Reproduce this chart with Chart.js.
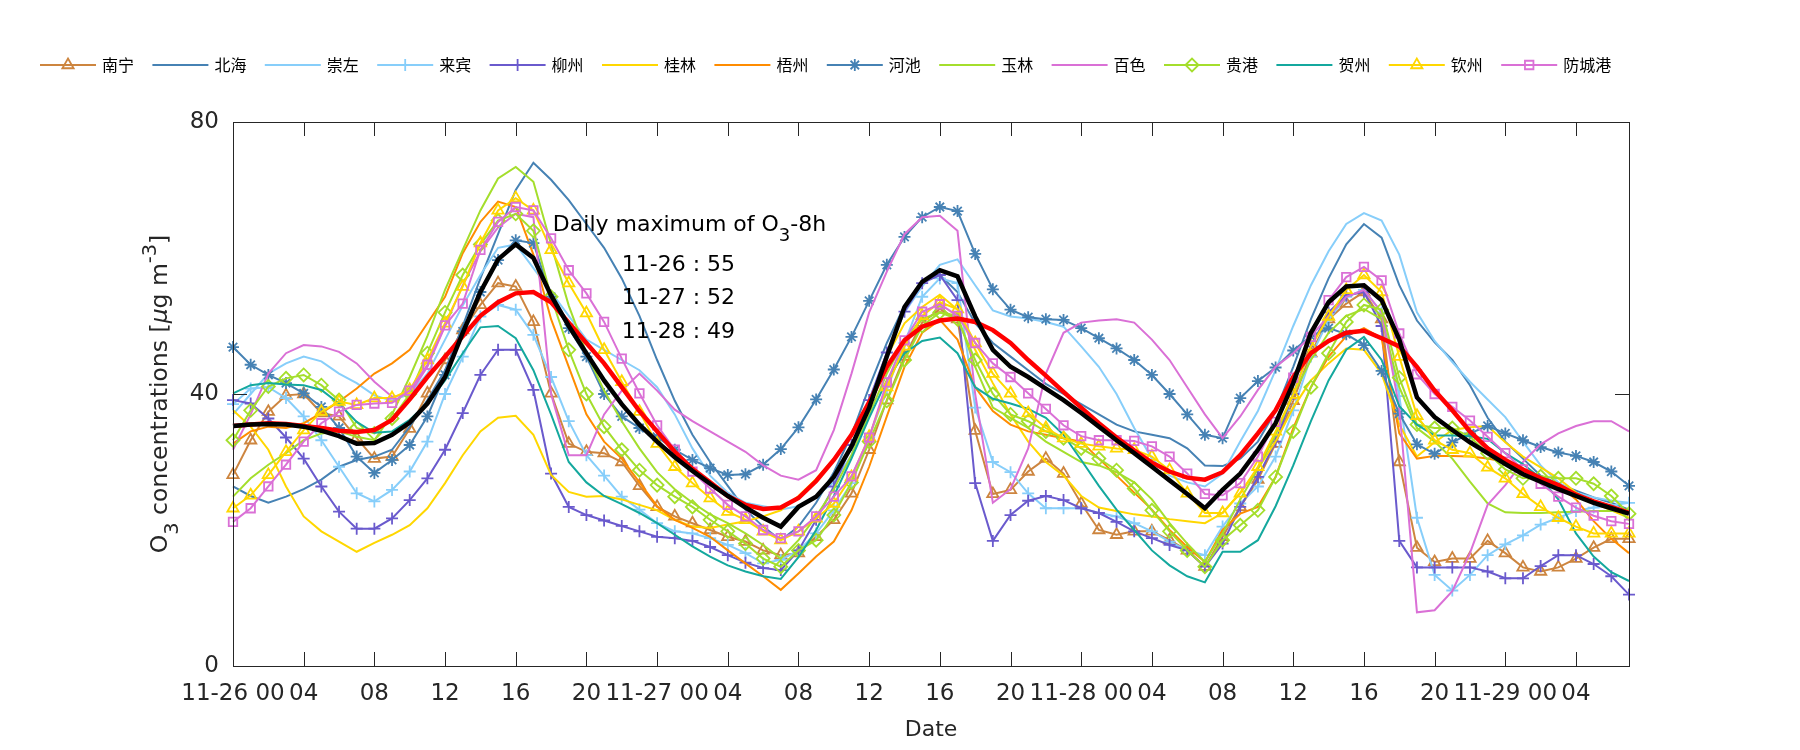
<!DOCTYPE html>
<html lang="zh">
<head>
<meta charset="utf-8" />
<title>O3 concentrations</title>
<script src="https://cdn.jsdelivr.net/npm/chart.js"></script>
<style>
  html, body { margin: 0; padding: 0; background: #fff; }
  #wrap { width: 1800px; height: 750px; }
</style>
</head>
<body>
<div id="wrap"><canvas id="o3Chart" width="1800" height="750"></canvas></div>
<script>
// hourly O3, 11-26 00 .. 11-29 07
const cities = ['南宁', '北海', '崇左', '来宾', '柳州', '桂林', '梧州', '河池', '玉林', '百色', '贵港', '贺州', '钦州', '防城港'];

const tickLabels = ['11-26 00', '04', '08', '12', '16', '20', '11-27 00', '04', '08', '12', '16', '20',
                    '11-28 00', '04', '08', '12', '16', '20', '11-29 00', '04'];
const yTicks = [0, 40, 80];

const nanning = [28.1, 33.2, 37.4, 39.8, 40.0, 37.2, 36.7, 33.5, 30.5, 30.8,
  34.9, 40.1, 45.0, 49.4, 53.1, 56.3, 55.8, 50.6, 40.1, 32.7,
  31.5, 31.3, 30.0, 26.5, 23.4, 22.0, 21.0, 20.0, 19.0, 18.3,
  17.0, 16.3, 16.6, 19.0, 21.5, 25.4, 31.8, 39.1, 45.5, 50.5,
  52.5, 51.0, 34.6, 25.3, 25.9, 28.6, 30.5, 28.3, 23.9, 20.0,
  19.3, 19.8, 19.8, 18.5, 17.0, 14.6, 19.0, 23.4, 27.4, 32.7,
  39.0, 46.0, 51.0, 53.3, 55.0, 51.0, 30.0, 17.4, 15.3, 15.8,
  15.8, 18.4, 16.6, 14.5, 13.9, 14.5, 15.8, 17.4, 18.7, 18.7];
const beihai = [26.4, 25.0, 24.0, 24.9, 26.0, 27.4, 29.3, 30.3, 30.8, 31.8,
  35.2, 39.1, 43.5, 50.0, 57.0, 63.5, 70.0, 74.0, 71.5, 68.5,
  65.0, 61.5, 57.0, 51.5, 45.0, 39.0, 34.0, 30.0, 26.5, 23.0,
  20.5, 18.5, 20.5, 24.0, 28.5, 34.0, 41.0, 47.5, 53.0, 56.5,
  57.5, 55.0, 50.4, 47.5, 45.5, 43.5, 41.5, 40.0, 38.5, 37.0,
  35.5, 34.5, 34.0, 33.5, 32.0, 29.5, 29.4, 30.5, 33.0, 37.5,
  44.0, 51.0, 57.0, 62.0, 65.0, 63.0, 56.0, 50.8, 47.6, 45.0,
  41.3, 36.5, 33.0, 30.5, 28.0, 26.8, 25.8, 24.8, 24.0, 23.0];
const chongzuo = [37.0, 40.0, 43.0, 44.5, 45.5, 44.8, 43.0, 41.6, 39.8, 39.0,
  40.0, 43.0, 48.0, 53.0, 57.5, 61.5, 62.0, 58.5, 55.0, 51.5,
  48.0, 46.5, 45.0, 43.5, 41.0, 37.0, 32.0, 28.0, 25.5, 24.0,
  23.5, 23.0, 23.5, 25.0, 27.0, 31.0, 39.0, 46.0, 52.0, 55.8,
  59.0, 59.8, 56.0, 52.3, 51.4, 51.1, 50.6, 49.9, 47.0, 44.0,
  40.0, 35.0, 30.5, 28.0, 27.0, 26.4, 28.3, 33.0, 37.5, 43.5,
  50.0, 56.0, 61.0, 65.0, 66.6, 65.5, 60.5, 52.0, 47.8, 44.7,
  41.8, 39.2, 36.6, 33.0, 29.5, 27.0, 25.5, 24.8, 24.3, 24.0];
const laibin = [38.5, 40.8, 41.0, 39.4, 36.7, 33.2, 29.3, 25.4, 24.2, 25.9,
  28.6, 33.0, 40.0, 45.5, 51.4, 53.1, 52.4, 48.7, 42.5, 36.0,
  31.0, 28.0, 24.9, 23.0, 21.0, 19.8, 19.5, 18.8, 17.8, 16.6,
  15.1, 15.6, 17.0, 19.5, 22.9, 26.9, 33.7, 40.6, 47.5, 54.3,
  57.0, 56.3, 38.0, 30.0, 28.5, 25.4, 23.2, 23.2, 23.2, 22.5,
  22.0, 21.0, 19.8, 18.3, 17.0, 16.3, 20.5, 23.9, 26.4, 30.8,
  37.6, 45.5, 50.9, 54.3, 55.3, 52.0, 39.7, 21.8, 13.4, 11.1,
  13.4, 16.3, 17.9, 19.2, 20.8, 21.8, 22.8, 23.3, 23.6, 24.0];
const liuzhou = [39.1, 38.6, 36.4, 33.6, 30.5, 26.4, 22.7, 20.2, 20.2, 21.7,
  24.4, 27.6, 31.8, 37.2, 42.8, 46.5, 46.5, 40.6, 28.3, 23.4,
  22.2, 21.4, 20.6, 19.8, 19.0, 18.8, 18.4, 17.5, 16.3, 15.2,
  14.4, 14.1, 17.0, 21.5, 26.4, 32.5, 39.1, 46.1, 52.1, 56.3,
  57.5, 53.8, 26.9, 18.4, 22.2, 24.3, 25.0, 24.4, 23.2, 22.5,
  21.2, 19.8, 18.8, 17.8, 17.0, 14.6, 18.0, 23.4, 27.8, 33.0,
  40.0, 47.0, 52.0, 54.5, 55.0, 50.0, 18.4, 14.5, 14.5, 14.5,
  14.5, 13.9, 12.9, 12.9, 14.7, 16.3, 16.3, 15.0, 13.2, 10.5];
const guilin = [37.6, 35.2, 31.8, 26.4, 22.0, 19.8, 18.3, 16.8, 18.1, 19.3,
  20.7, 23.2, 26.9, 31.0, 34.5, 36.5, 36.8, 34.0, 28.1, 25.6,
  24.9, 25.0, 24.5, 23.7, 22.9, 21.5, 20.5, 20.3, 20.8, 21.3,
  22.0, 22.9, 25.0, 27.5, 30.5, 34.0, 38.0, 45.5, 50.4, 52.8,
  54.6, 52.4, 46.5, 41.6, 37.0, 33.0, 30.0, 28.0, 25.0, 23.3,
  22.8, 22.3, 22.0, 21.6, 21.3, 21.0, 22.5, 25.5, 29.0, 33.0,
  38.0, 42.0, 44.5, 46.7, 46.5, 43.0, 35.5, 30.8, 32.9, 34.7,
  35.1, 35.3, 32.9, 30.8, 29.2, 27.6, 25.5, 24.0, 22.9, 21.8];
const wuzhou = [32.7, 34.5, 35.2, 35.0, 35.7, 37.2, 38.9, 40.8, 43.0, 44.5,
  46.5, 50.4, 54.3, 60.7, 65.3, 68.3, 67.5, 60.5, 51.0, 44.0,
  37.0, 33.0, 30.5, 27.0, 23.5, 21.5, 20.3, 19.0, 17.0, 15.1,
  13.2, 11.2, 13.6, 16.1, 18.3, 22.9, 29.3, 36.7, 44.0, 49.0,
  50.9, 48.0, 41.0, 37.5, 35.5, 34.5, 34.0, 33.5, 33.0, 30.5,
  28.0, 25.5, 23.0, 20.0, 17.5, 15.3, 20.0, 22.4, 23.4, 27.8,
  35.0, 41.0, 45.5, 48.5, 49.7, 48.2, 34.2, 30.5, 30.9, 30.9,
  30.8, 30.5, 30.0, 28.7, 27.6, 26.6, 24.5, 21.3, 18.7, 16.6];
const hechi = [46.9, 44.3, 42.8, 41.6, 40.1, 38.1, 35.0, 30.8, 28.4, 30.3,
  32.5, 36.7, 42.8, 49.2, 55.0, 59.7, 62.6, 62.2, 54.3, 49.7,
  45.5, 40.0, 36.7, 35.0, 33.7, 31.8, 30.3, 29.1, 28.1, 28.2,
  29.6, 31.9, 35.1, 39.2, 43.6, 48.4, 53.7, 59.0, 63.1, 66.0,
  67.5, 66.9, 60.6, 55.4, 52.4, 51.3, 51.0, 50.9, 49.7, 48.2,
  46.7, 45.0, 42.8, 40.0, 37.0, 34.0, 33.5, 39.4, 41.9, 43.9,
  46.4, 48.5, 49.7, 48.8, 47.2, 43.4, 37.1, 32.6, 31.2, 32.9,
  34.2, 35.3, 34.2, 33.2, 32.2, 31.4, 30.9, 30.0, 28.6, 26.5];
const yulin = [24.9, 27.6, 29.6, 31.3, 33.2, 34.2, 34.5, 33.7, 33.2, 37.0,
  42.5, 48.5, 55.3, 61.2, 67.0, 71.7, 73.4, 71.2, 62.0, 53.0,
  46.0, 40.5, 36.0, 32.0, 28.5, 26.0, 24.0, 22.3, 21.0, 19.5,
  17.8, 15.8, 18.5, 22.0, 26.0, 31.0, 37.0, 43.0, 48.0, 51.0,
  52.0, 51.5, 44.0, 38.0, 36.5, 35.0, 33.0, 31.5, 30.0, 29.5,
  28.5, 27.0, 24.5, 21.0, 18.0, 15.3, 19.5, 24.5, 29.0, 34.0,
  40.0, 45.0, 49.0, 51.5, 52.5, 51.0, 41.0, 35.0, 33.0, 30.5,
  27.1, 23.9, 22.6, 22.5, 22.5, 22.6, 22.7, 22.8, 22.8, 22.9];
const baise = [31.8, 37.0, 43.0, 46.0, 47.2, 47.0, 46.2, 44.5, 41.8, 39.6,
  40.0, 44.0, 50.0, 56.0, 61.0, 64.5, 66.5, 66.0, 40.0, 31.0,
  31.0, 37.0, 40.5, 43.0, 40.5, 37.7, 36.0, 34.5, 33.0, 31.5,
  29.5, 28.0, 27.4, 28.8, 34.7, 43.0, 52.0, 58.0, 63.5, 66.0,
  66.2, 64.0, 40.0, 24.0, 26.0, 32.0, 43.0, 49.0, 50.5, 50.8,
  51.0, 50.5, 48.0, 45.0, 41.0, 37.0, 33.5, 36.7, 40.6, 44.0,
  46.0, 48.5, 51.5, 54.3, 55.3, 52.0, 38.0, 7.9, 8.2, 11.0,
  16.6, 23.7, 26.6, 30.0, 32.6, 34.2, 35.3, 36.0, 36.0, 34.5];
const guigang = [33.2, 37.6, 41.1, 42.3, 42.8, 41.3, 39.1, 35.0, 34.2, 36.4,
  40.0, 46.0, 52.0, 57.5, 62.0, 65.5, 66.5, 64.0, 54.3, 46.5,
  40.0, 35.2, 31.8, 28.8, 26.6, 24.9, 23.4, 21.5, 19.8, 18.0,
  15.8, 14.6, 17.0, 18.5, 22.2, 27.0, 33.0, 39.0, 45.0, 50.0,
  52.0, 51.0, 45.0, 40.0, 37.0, 36.0, 34.5, 33.5, 32.0, 30.5,
  28.8, 26.1, 22.9, 19.8, 17.0, 14.6, 18.5, 20.7, 22.9, 27.8,
  34.5, 41.0, 46.0, 50.6, 53.1, 52.4, 42.4, 35.5, 35.0, 35.0,
  33.7, 31.3, 28.9, 27.6, 27.9, 27.6, 27.6, 26.8, 25.0, 22.4];
const hezhou = [40.1, 41.3, 41.6, 41.4, 41.3, 40.6, 38.6, 35.9, 34.3, 34.5,
  36.2, 38.6, 42.0, 46.0, 49.8, 50.0, 48.2, 43.5, 37.0, 30.0,
  27.0, 25.0, 23.8, 22.5, 21.0, 19.3, 17.6, 16.1, 14.8, 13.9,
  13.2, 12.8, 16.0, 20.0, 25.0, 30.5, 36.5, 42.0, 46.0, 47.8,
  48.3, 46.0, 41.0, 39.3, 38.6, 37.8, 36.5, 34.0, 30.3, 26.5,
  23.0, 20.0, 17.0, 14.8, 13.2, 12.3, 16.8, 16.8, 18.5, 23.5,
  29.5, 36.0, 42.0, 46.5, 48.4, 45.0, 38.2, 35.5, 33.9, 33.9,
  33.8, 33.4, 31.3, 29.7, 27.6, 24.5, 19.5, 16.1, 13.8, 12.5];
const qinzhou = [23.2, 25.1, 28.1, 31.5, 34.7, 37.4, 38.9, 38.4, 39.4, 39.4,
  40.6, 45.0, 50.4, 55.8, 62.2, 67.0, 68.8, 67.0, 61.2, 56.3,
  51.9, 46.5, 41.8, 37.4, 32.7, 29.3, 26.9, 24.7, 22.7, 21.5,
  19.8, 18.5, 19.8, 21.7, 23.9, 27.8, 33.7, 41.0, 47.0, 51.5,
  53.5, 52.5, 47.5, 43.0, 40.1, 37.2, 35.0, 33.5, 32.7, 32.3,
  32.0, 31.8, 30.8, 28.8, 25.4, 22.5, 22.5, 25.4, 29.3, 34.5,
  39.9, 47.0, 51.4, 55.3, 57.5, 55.0, 45.5, 36.8, 33.2, 31.8,
  31.3, 29.2, 27.6, 25.3, 23.4, 21.8, 20.5, 19.5, 19.5, 19.5];
const fangchenggang = [21.2, 23.2, 26.4, 29.6, 33.0, 35.7, 37.4, 38.4, 38.6, 38.7,
  40.5, 44.3, 50.1, 53.3, 61.2, 65.3, 67.5, 67.0, 62.9, 58.2,
  54.8, 50.6, 45.2, 40.1, 35.4, 31.8, 28.6, 26.1, 23.7, 22.0,
  20.0, 18.8, 19.8, 22.0, 24.9, 27.9, 33.6, 41.7, 47.9, 52.1,
  53.2, 51.5, 47.5, 44.5, 42.5, 40.1, 37.8, 35.4, 33.8, 33.2,
  33.2, 33.1, 32.3, 30.8, 28.3, 25.3, 25.1, 26.9, 30.8, 35.9,
  42.4, 48.4, 53.8, 57.2, 58.7, 56.7, 48.9, 42.9, 40.0, 38.1,
  36.1, 33.7, 31.3, 28.9, 26.8, 24.9, 23.3, 22.1, 21.3, 20.9];

// thick curves drawn over the stations (not in the legend)
const redSeries = [35.3, 35.5, 35.7, 35.6, 35.3, 35.0, 34.6, 34.4, 34.7, 36.2,
  39.2, 42.5, 45.5, 48.5, 51.5, 53.5, 54.8, 55.0, 53.5, 50.5,
  47.5, 44.5, 41.0, 37.5, 34.5, 31.5, 29.0, 27.0, 25.0, 23.7,
  23.1, 23.3, 24.7, 27.2, 30.3, 34.0, 38.8, 44.0, 47.9, 49.9,
  50.8, 51.1, 50.6, 49.4, 47.5, 45.0, 42.7, 40.3, 38.0, 35.7,
  33.6, 31.7, 29.9, 28.6, 27.7, 27.4, 28.5, 31.0, 34.2, 37.6,
  42.5, 46.0, 47.8, 49.0, 49.3, 48.2, 47.0, 44.0, 40.5, 37.6,
  34.5, 32.0, 30.3, 28.9, 27.6, 26.6, 25.2, 24.2, 23.4, 22.5];
const blackSeries = [35.3, 35.5, 35.6, 35.5, 35.2, 34.6, 33.8, 32.7, 32.8, 34.0,
  35.8, 38.6, 42.5, 49.0, 55.0, 59.8, 62.0, 60.0, 54.5, 50.0,
  46.0, 42.0, 38.5, 35.5, 33.0, 30.7, 28.7, 26.8, 25.0, 23.3,
  21.8, 20.5, 23.4, 24.9, 27.8, 32.3, 38.0, 45.5, 52.8, 56.5,
  58.2, 57.3, 51.4, 46.5, 44.0, 42.5, 40.8, 39.1, 37.2, 35.2,
  33.2, 31.3, 29.3, 27.3, 25.3, 23.2, 25.9, 28.3, 31.8, 35.7,
  41.6, 49.0, 53.5, 55.8, 56.0, 53.8, 48.0, 39.5, 36.6, 34.7,
  32.9, 31.3, 29.7, 28.2, 27.1, 26.0, 25.0, 24.0, 23.2, 22.4];

const dailyMaxDays = ['11-26', '11-27', '11-28'];
const dailyMaxValues = [55, 52, 49];

const cityValues = [nanning, beihai, chongzuo, laibin, liuzhou, guilin, wuzhou,
                    hechi, yulin, baise, guigang, hezhou, qinzhou, fangchenggang];

// styles
const LIME = '#A4DE2C';
const cityStyles = [
  { color: '#CD853F', marker: 'triangle', r: 6.5 },
  { color: '#4682B4' },
  { color: '#87CEFA' },
  { color: '#87CEFA', marker: 'cross', r: 6 },
  { color: '#6A5ACD', marker: 'cross', r: 6 },
  { color: '#FFD700' },
  { color: '#FF8C00' },
  { color: '#4682B4', marker: 'star', r: 6 },
  { color: LIME },
  { color: '#DA70D6' },
  { color: LIME, marker: 'rectRot', r: 6.5 },
  { color: '#14A89E' },
  { color: '#FFD700', marker: 'triangle', r: 6.5 },
  { color: '#DA70D6', marker: 'rect', r: 6 }
];

const FONT = "'DejaVu Sans', 'Liberation Sans', sans-serif";
const CJK = "'Noto Sans CJK SC', 'Noto Sans', sans-serif";
const AXIS_COLOR = '#262626';
const TICK_LEN = 14;

const hours = [];
for (let i = 0; i < nanning.length; i++) hours.push(i);

const datasets = cities.map((name, i) => {
  const s = cityStyles[i];
  return {
    label: name,
    data: cityValues[i],
    borderColor: s.color,
    borderWidth: 2,
    pointStyle: s.marker || 'circle',
    pointRadius: s.marker ? s.r : 0,
    pointBorderColor: s.color,
    pointBackgroundColor: 'rgba(0,0,0,0)',
    pointBorderWidth: 1.8,
    tension: 0,
    fill: false,
    clip: false,
    order: 100 - i
  };
});
datasets.push({ label: 'red', data: redSeries, borderColor: '#FF0000', borderWidth: 4.5,
  pointRadius: 0, tension: 0, fill: false, clip: false, order: 1 });
datasets.push({ label: 'black', data: blackSeries, borderColor: '#000000', borderWidth: 4.5,
  pointRadius: 0, tension: 0, fill: false, clip: false, order: 0 });

// text with sub/superscripts, drawn left-to-right from x (or centred)
function drawRich(ctx, parts, x, y, size, align) {
  const fontFor = p => (p.italic ? 'italic ' : '') + (p.mode ? size * 0.82 : size) + 'px ' + FONT;
  let total = 0;
  parts.forEach(p => { ctx.font = fontFor(p); total += ctx.measureText(p.text).width; });
  let cx = align === 'center' ? x - total / 2 : x;
  ctx.textAlign = 'left';
  ctx.textBaseline = 'middle';
  parts.forEach(p => {
    ctx.font = fontFor(p);
    let dy = 0;
    if (p.mode === 'sub') dy = size * 0.5;
    if (p.mode === 'sup') dy = -size * 0.42;
    ctx.fillText(p.text, cx, y + dy);
    cx += ctx.measureText(p.text).width;
  });
}

const boxPlugin = {
  id: 'boxPlugin',
  afterDatasetsDraw(chart) {
    const { ctx, chartArea: a, scales: { x, y } } = chart;
    ctx.save();
    ctx.strokeStyle = AXIS_COLOR;
    ctx.lineWidth = 1;
    ctx.strokeRect(a.left + 0.5, a.top + 0.5, a.right - a.left, a.bottom - a.top);
    ctx.beginPath();
    tickLabels.forEach((lab, k) => {
      const px = Math.round(x.getPixelForValue(k * 4)) + 0.5;
      ctx.moveTo(px, a.bottom); ctx.lineTo(px, a.bottom - TICK_LEN);
      ctx.moveTo(px, a.top); ctx.lineTo(px, a.top + TICK_LEN);
    });
    yTicks.forEach(v => {
      const py = Math.round(y.getPixelForValue(v)) + 0.5;
      ctx.moveTo(a.left, py); ctx.lineTo(a.left + TICK_LEN, py);
      ctx.moveTo(a.right, py); ctx.lineTo(a.right - TICK_LEN, py);
    });
    ctx.stroke();
    ctx.restore();
  }
};

const legendPlugin = {
  id: 'legendPlugin',
  afterDraw(chart) {
    const ctx = chart.ctx;
    const x0 = 40, step = 112.4, yy = 65, lineLen = 56;
    ctx.save();
    cities.forEach((name, i) => {
      const s = cityStyles[i];
      const lx = x0 + step * i;
      ctx.strokeStyle = s.color;
      ctx.lineWidth = 2;
      ctx.beginPath();
      ctx.moveTo(lx, yy); ctx.lineTo(lx + lineLen, yy);
      ctx.stroke();
      if (s.marker && Chart.helpers && Chart.helpers.drawPoint) {
        ctx.lineWidth = 1.8;
        ctx.fillStyle = 'rgba(0,0,0,0)';
        Chart.helpers.drawPoint(ctx, { pointStyle: s.marker, radius: s.r, borderWidth: 1.8, rotation: 0 }, lx + lineLen / 2, yy);
      }
      ctx.fillStyle = '#000';
      ctx.font = '16px ' + CJK;
      ctx.textAlign = 'left';
      ctx.textBaseline = 'middle';
      ctx.fillText(name, lx + lineLen + 6, yy);
    });
    ctx.restore();
  }
};

const textPlugin = {
  id: 'textPlugin',
  afterDraw(chart) {
    const { ctx, scales: { x, y } } = chart;
    ctx.save();
    ctx.fillStyle = '#000';
    // note block
    drawRich(ctx, [{ text: 'Daily maximum of O' }, { text: '3', mode: 'sub' }, { text: '-8h' }],
      x.getPixelForValue(18.1), y.getPixelForValue(64.8), 22);
    dailyMaxDays.forEach((d, i) => {
      drawRich(ctx, [{ text: d + ' : ' + dailyMaxValues[i] }],
        x.getPixelForValue(22), y.getPixelForValue(59 - i * 4.95), 22);
    });
    // y axis title
    ctx.fillStyle = AXIS_COLOR;
    ctx.translate(161, (chart.chartArea.top + chart.chartArea.bottom) / 2);
    ctx.rotate(-Math.PI / 2);
    drawRich(ctx, [{ text: 'O' }, { text: '3', mode: 'sub' }, { text: ' concentrations [' },
      { text: 'μ', italic: true }, { text: 'g m' }, { text: '-3', mode: 'sup' }, { text: ']' }], 0, 0, 23.5, 'center');
    ctx.restore();
  }
};

new Chart(document.getElementById('o3Chart'), {
  type: 'line',
  data: { labels: hours, datasets: datasets },
  options: {
    responsive: false,
    animation: false,
    events: [],
    layout: { padding: { left: 0, right: 171, top: 122, bottom: 0 } },
    plugins: { legend: { display: false }, tooltip: { enabled: false } },
    scales: {
      x: {
        type: 'category',
        grid: { display: false, drawTicks: false },
        border: { display: false },
        ticks: {
          autoSkip: false, maxRotation: 0, minRotation: 0, padding: 14,
          color: AXIS_COLOR, font: { family: FONT, size: 23 },
          callback: (val, idx) => (idx % 4 === 0 ? tickLabels[idx / 4] : null)
        },
        title: { display: true, text: 'Date', color: AXIS_COLOR, font: { family: FONT, size: 22 },
          padding: { top: 0, bottom: 7 } },
        afterFit: s => { s.height = 84; }
      },
      y: {
        min: 0, max: 80,
        grid: { display: false, drawTicks: false },
        border: { display: false },
        ticks: { stepSize: 40, padding: 14, color: AXIS_COLOR, font: { family: FONT, size: 23 } },
        afterFit: s => { s.width = 233; }
      }
    }
  },
  plugins: [boxPlugin, legendPlugin, textPlugin]
});
</script>
</body>
</html>
